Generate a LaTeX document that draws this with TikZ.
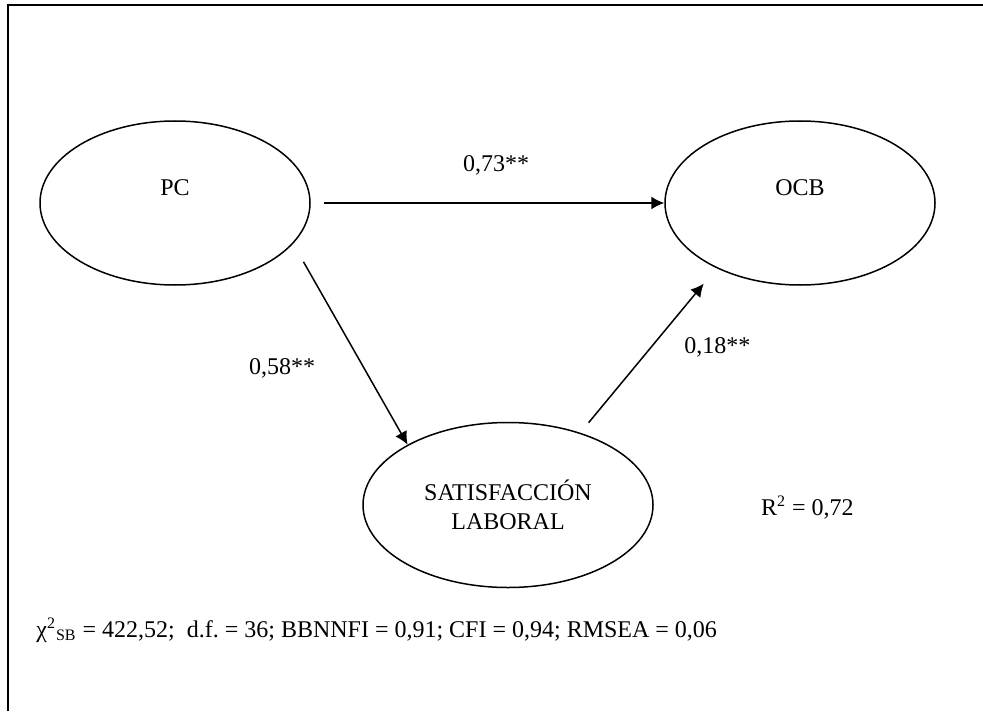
\documentclass[tikz,border=0pt]{standalone}
\usepackage{fontspec}
\setmainfont{Liberation Serif}
\usetikzlibrary{shapes.geometric,arrows.meta}
\frenchspacing
\begin{document}
\begin{tikzpicture}[x=0.5pt,y=-0.5pt,
  font=\fontsize{12}{13.5}\selectfont,
  latent/.style={ellipse, draw, line width=0.75pt, minimum width=135pt,
    minimum height=82pt, inner sep=0pt},
  onelabel/.style={text height=8pt, text depth=15pt},
  pathline/.style={-{Latex[length=6.5pt,width=6.5pt]}, line width=0.75pt},
  coef/.style={anchor=base, inner sep=0pt}]
\useasboundingbox (0,0) rectangle (983,711);
% frame
\draw[line width=1pt] (8,711) -- (8,5) -- (983,5);
% latent variables
\node[latent, onelabel] (PC) at (175,203) {PC};
\node[latent, onelabel] (OCB) at (800,203) {OCB};
\node[latent, align=center, minimum width=145pt, minimum height=82.5pt] (SAT) at (508,505) {\raisebox{1pt}{SATISFACCIÓN}\\LABORAL};
% paths
\draw[pathline, shorten <=6.5pt] (PC.east) -- (OCB.west);
\draw[pathline, shorten <=10.4pt] (PC.-19.3) -- (SAT.149);
\draw[pathline, shorten <=6.5pt, shorten >=10pt] (SAT.45.2) -- (OCB.218.8);
% coefficients
\node[coef] (c1) at (496,172) {0,73**};
\node[coef] (c2) at (282,374) {0,58**};
\node[coef, anchor=base west] (c3) at (684,353) {0,18**};
\node[coef, anchor=base east] (r2) at (854,515) {R\textsuperscript{2} = 0,72};
% fit indices
\node[coef, anchor=base west] (fit) at (36,637) {χ\textsuperscript{2}\textsubscript{SB} = 422,52;\ \ d.f. = 36; BBNNFI = 0,91; CFI = 0,94; RMSEA = 0,06};
\end{tikzpicture}
\end{document}
